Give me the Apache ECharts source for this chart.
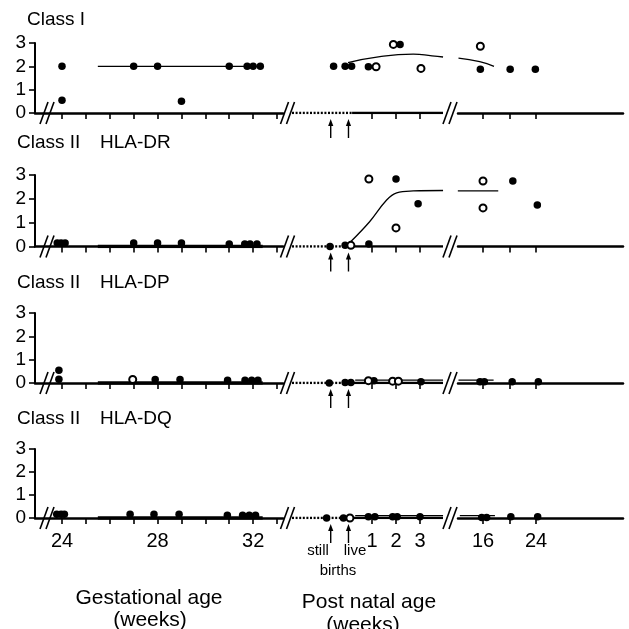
<!DOCTYPE html>
<html>
<head>
<meta charset="utf-8">
<title>HLA antigen expression</title>
<script src="https://cdn.jsdelivr.net/npm/echarts@6.0.0/dist/echarts.min.js"></script>
<style>
    html, body { margin: 0; padding: 0; background: #fff; }
    #main { width: 629px; height: 629px; }
</style>
</head>
<body>
<div id="main"></div>
<script>
    // ---- ticks / labels ----
    var yTicks = [0, 1, 2, 3];
    var gestTicks = [24, 25, 26, 27, 28, 29, 30, 31, 32, 33];
    var gestLabels = [24, 28, 32];
    var postTicks = [1, 2, 3];
    var lateTicks = [16, 20, 24];
    var lateLabels = [16, 24];
    var stillBirth = -0.72;
    var liveBirth = 0.02;
    var birthDotEnd = 0.17;
    var panelTitles = [['Class I', ''], ['Class II', 'HLA-DR'], ['Class II', 'HLA-DP'], ['Class II', 'HLA-DQ']];

    // ---- Class I ----
    var classIGestFilled = [[24, 2], [24, 0.55], [27, 2], [28, 2], [29, 0.5], [31, 2], [31.75, 2], [32, 2], [32.3, 2]];
    var classIGestFit = [[25.5, 2], [32.35, 2]];
    var classIEarlyFilled = [[-0.6, 2], [-0.12, 2], [0.15, 2], [0.85, 1.98], [2.17, 2.94]];
    var classIEarlyOpen = [[1.17, 1.98], [1.89, 2.94], [3.04, 1.91]];
    var classIEarlyFit = [[0.0, 2.16], [1.33, 2.42], [2.72, 2.52], [3.5, 2.45], [3.96, 2.4]];
    var classILateFilled = [[15.6, 1.88], [20.1, 1.88], [23.9, 1.87]];
    var classILateOpen = [[15.6, 2.86]];
    var classILateFit = [[12.3, 2.35], [15.5, 2.2], [17.66, 2.0]];

    // ---- Class II HLA-DR ----
    var drGestFilled = [[23.8, 0.15], [23.96, 0.15], [24.13, 0.15], [27, 0.15], [28, 0.15], [29, 0.15], [31, 0.1], [31.65, 0.1], [31.87, 0.1], [32.16, 0.1]];
    var drGestFit = [[25.5, 0], [32.4, 0]];
    var drEarlyFilled = [[-0.75, 0], [-0.12, 0.05], [0.87, 0.1], [2.0, 2.83], [2.92, 1.79]];
    var drEarlyOpen = [[0.12, 0.05], [0.87, 2.83], [2.0, 0.78]];
    var drEarlyFit = [[0.11, 0.2], [0.9, 1.04], [1.61, 1.95], [2.03, 2.25], [2.72, 2.33], [3.96, 2.35]];
    var drLateFilled = [[20.5, 2.75], [24.2, 1.74]];
    var drLateOpen = [[16, 2.75], [16, 1.62]];
    var drLateFit = [[12.2, 2.33], [18.3, 2.33]];

    // ---- Class II HLA-DP ----
    var dpGestFilled = [[23.87, 0.16], [23.87, 0.55], [27.9, 0.15], [28.94, 0.15], [30.93, 0.12], [31.66, 0.12], [31.94, 0.12], [32.2, 0.12]];
    var dpGestOpen = [[26.96, 0.15]];
    var dpGestFit = [[25.5, 0], [32.4, 0]];
    var dpEarlyFilled = [[-0.78, 0], [-0.12, 0.02], [0.12, 0.02], [1.08, 0.1], [3.04, 0.05]];
    var dpEarlyOpen = [[0.85, 0.1], [1.86, 0.08], [2.1, 0.08]];
    var dpEarlyFit = [[0.3, 0.12], [3.96, 0.12]];
    var dpLateFilled = [[15.55, 0.05], [16.2, 0.05], [20.4, 0.05], [24.35, 0.05]];
    var dpLateFit = [[12.3, 0.12], [17.6, 0.12]];

    // ---- Class II HLA-DQ ----
    var dqGestFilled = [[23.78, 0.16], [23.96, 0.16], [24.1, 0.16], [26.85, 0.16], [27.85, 0.16], [28.9, 0.16], [30.92, 0.12], [31.56, 0.12], [31.84, 0.12], [32.1, 0.12]];
    var dqGestFit = [[25.5, 0], [32.4, 0]];
    var dqEarlyFilled = [[-0.89, 0], [-0.19, 0], [0.85, 0.05], [1.12, 0.05], [1.86, 0.05], [2.05, 0.05], [3.0, 0.05]];
    var dqEarlyOpen = [[0.08, 0]];
    var dqEarlyFit = [[0.3, 0.1], [3.96, 0.1]];
    var dqLateFilled = [[15.8, 0.02], [16.55, 0.02], [20.2, 0.05], [24.25, 0.05]];
    var dqLateFit = [[12.5, 0.1], [17.8, 0.1]];

    var panels = [
        {
            gest: { filled: classIGestFilled, open: [], fits: [{ data: classIGestFit, width: 1.3 }] },
            early: { filled: classIEarlyFilled, open: classIEarlyOpen, fits: [{ data: classIEarlyFit, width: 1.3, smooth: true }] },
            late: { filled: classILateFilled, open: classILateOpen, fits: [{ data: classILateFit, width: 1.3, smooth: true }] }
        },
        {
            gest: { filled: drGestFilled, open: [], fits: [{ data: drGestFit, width: 3.5 }] },
            early: { filled: drEarlyFilled, open: drEarlyOpen, fits: [{ data: drEarlyFit, width: 1.3, smooth: 0.4 }] },
            late: { filled: drLateFilled, open: drLateOpen, fits: [{ data: drLateFit, width: 1.3 }] }
        },
        {
            gest: { filled: dpGestFilled, open: dpGestOpen, fits: [{ data: dpGestFit, width: 3.5 }] },
            early: { filled: dpEarlyFilled, open: dpEarlyOpen, fits: [{ data: dpEarlyFit, width: 1.2 }] },
            late: { filled: dpLateFilled, open: [], fits: [{ data: dpLateFit, width: 1.2 }] }
        },
        {
            gest: { filled: dqGestFilled, open: [], fits: [{ data: dqGestFit, width: 3.5 }] },
            early: { filled: dqEarlyFilled, open: dqEarlyOpen, fits: [{ data: dqEarlyFit, width: 1.2 }] },
            late: { filled: dqLateFilled, open: [], fits: [{ data: dqLateFit, width: 1.2 }] }
        }
    ];

    // ---- layout ----
    var ink = '#000';
    var font = '"Liberation Sans", Arial, Helvetica, sans-serif';
    var panelTop = [43, 175, 313, 449];
    var panelBottom = [113, 246.5, 383, 518];
    var titleY = [20, 143, 283, 419];
    var segs = [
        { key: 'gest', left: 35, right: 283, min: 22.87, max: 33.25, ticks: gestTicks, labels: gestLabels },
        { key: 'early', left: 292, right: 443, min: -2.333, max: 3.958, ticks: postTicks, labels: postTicks },
        { key: 'late', left: 458, right: 623, min: 12.226, max: 37.13, ticks: lateTicks, labels: lateLabels }
    ];

    var grids = [], xAxes = [], yAxes = [], series = [];

    panels.forEach(function (panel, p) {
        segs.forEach(function (seg, s) {
            var idx = p * 3 + s;
            grids.push({
                left: seg.left, width: seg.right - seg.left,
                top: panelTop[p], height: panelBottom[p] - panelTop[p]
            });
            xAxes.push({
                type: 'value', gridIndex: idx, min: seg.min, max: seg.max,
                axisLine: { show: s !== 1, lineStyle: { color: ink, width: 2.5 } },
                axisTick: { show: true, customValues: seg.ticks, length: 6, lineStyle: { color: ink, width: 1.6 } },
                axisLabel: {
                    show: p === 3, customValues: seg.labels, margin: 13,
                    color: ink, fontSize: 20, fontFamily: font
                },
                splitLine: { show: false }
            });
            yAxes.push({
                type: 'value', gridIndex: idx, min: 0, max: 3, interval: 1,
                axisLine: { show: s === 0, lineStyle: { color: ink, width: 2 } },
                axisTick: { show: s === 0, length: 6, lineStyle: { color: ink, width: 1.6 } },
                axisLabel: { show: s === 0, margin: 9, color: ink, fontSize: 19, fontFamily: font },
                splitLine: { show: false }
            });

            var d = panel[seg.key];
            d.fits.forEach(function (f) {
                series.push({
                    type: 'line', xAxisIndex: idx, yAxisIndex: idx, data: f.data,
                    smooth: f.smooth || false, symbol: 'none', silent: true, z: 2,
                    lineStyle: { color: ink, width: f.width }
                });
            });
            if (d.filled.length) {
                series.push({
                    type: 'scatter', xAxisIndex: idx, yAxisIndex: idx, data: d.filled,
                    symbol: 'circle', symbolSize: 7.5, itemStyle: { color: ink, opacity: 1 }, z: 4, silent: true
                });
            }
            if (d.open.length) {
                series.push({
                    type: 'scatter', xAxisIndex: idx, yAxisIndex: idx, data: d.open,
                    symbol: 'circle', symbolSize: 7, z: 5, silent: true,
                    itemStyle: { color: '#fff', borderColor: ink, borderWidth: 2, opacity: 1 }
                });
            }
            if (s === 1) {
                // dotted run up to birth, solid after
                series.push({
                    type: 'line', xAxisIndex: idx, yAxisIndex: idx, symbol: 'none', silent: true, z: 1,
                    data: [[seg.min, 0], [birthDotEnd, 0]],
                    lineStyle: { color: ink, width: 2.5, type: [2, 1.6] }
                });
                series.push({
                    type: 'line', xAxisIndex: idx, yAxisIndex: idx, symbol: 'none', silent: true, z: 1,
                    data: [[birthDotEnd, 0], [seg.max, 0]],
                    lineStyle: { color: ink, width: 2.5 }
                });
            }
        });
    });

    function txt(str, x, y, size, align) {
        return {
            type: 'text', z: 20, silent: true,
            style: {
                text: str, x: x, y: y, fill: ink, font: size + 'px ' + font,
                align: align || 'left', textAlign: align || 'left',
                verticalAlign: 'middle', textVerticalAlign: 'middle'
            }
        };
    }

    function slashes(cx, cy) {
        return [-3, 3].map(function (off) {
            return {
                type: 'line', z: 20, silent: true,
                shape: { x1: cx + off - 4, y1: cy + 11, x2: cx + off + 4, y2: cy - 11 },
                style: { stroke: ink, lineWidth: 1.6 }
            };
        });
    }

    var graphics = [];
    panelTitles.forEach(function (t, p) {
        graphics.push(txt(t[0], p === 0 ? 27 : 17, titleY[p], 19));
        if (t[1]) graphics.push(txt(t[1], 100, titleY[p], 19));
        var y0 = panelBottom[p];
        graphics = graphics.concat(slashes(47, y0), slashes(287.5, y0), slashes(450, y0));
    });
    graphics.push(txt('still', 318, 551, 15, 'center'));
    graphics.push(txt('live', 355, 551, 15, 'center'));
    graphics.push(txt('births', 338, 571, 15, 'center'));
    graphics.push(txt('Gestational age', 149, 598, 21, 'center'));
    graphics.push(txt('(weeks)', 150, 620, 21, 'center'));
    graphics.push(txt('Post natal age', 369, 602, 21, 'center'));
    graphics.push(txt('(weeks)', 363, 625, 21, 'center'));

    var chart = echarts.init(document.getElementById('main'), null, { renderer: 'canvas' });
    chart.setOption({
        animation: false,
        backgroundColor: '#fff',
        grid: grids,
        xAxis: xAxes,
        yAxis: yAxes,
        series: series,
        graphic: graphics
    });

    // birth arrows under each panel, placed through the early axis scale
    panels.forEach(function (panel, p) {
        var y0 = panelBottom[p];
        [stillBirth, liveBirth].forEach(function (v) {
            var px = chart.convertToPixel({ xAxisIndex: p * 3 + 1 }, v);
            graphics.push({
                type: 'line', z: 20, silent: true,
                shape: { x1: px, y1: y0 + 11, x2: px, y2: y0 + 25 },
                style: { stroke: ink, lineWidth: 1.4 }
            });
            graphics.push({
                type: 'polygon', z: 20, silent: true,
                shape: { points: [[px, y0 + 6], [px - 2.6, y0 + 13], [px + 2.6, y0 + 13]] },
                style: { fill: ink }
            });
        });
    });
    chart.setOption({ graphic: graphics }, { replaceMerge: ['graphic'] });
</script>
</body>
</html>
